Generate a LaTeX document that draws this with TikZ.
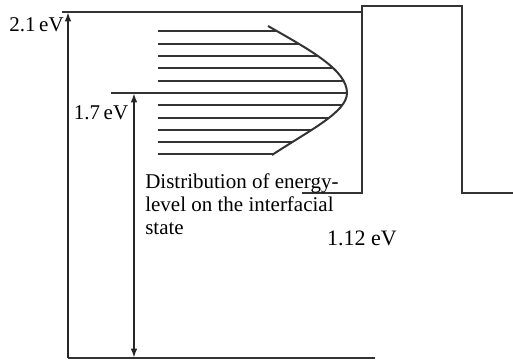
\documentclass[tikz,border=0pt]{standalone}
\usepackage{fontspec}
\setmainfont{Liberation Serif}
\usetikzlibrary{arrows.meta}
\tikzset{
  band/.style={line width=1.5pt, black!80},
  level/.style={line width=1.5pt, black!80},
  arr/.style={-{Latex[length=7pt,width=5pt]}, line width=1.5pt, black!85},
  darr/.style={{Latex[length=7pt,width=5pt]}-{Latex[length=7pt,width=5pt]}, line width=1.5pt, black!85},
  lbl/.style={font=\fontsize{15.75}{17.25}\selectfont, inner sep=0pt},
}

\begin{document}
\begin{tikzpicture}[x=0.75pt, y=-0.75pt, line join=miter]
  \useasboundingbox (0,0) rectangle (513,363);

  %% ── Band edges ──
  \coordinate (cb) at (68,12);
  \coordinate (vb) at (68,358);
  \coordinate (es) at (134,93);
  \coordinate (esb) at (134,358);
  \draw[band] (62,12) -- (362,12);
  \draw[band] (111,93) -- (347,93);
  \draw[band] (vb) -- (375,358);
  \draw[band] (302,193) -- (362,193) -- (362,6) -- (462,6) -- (462,193) -- (513,193);

  %% ── Interface states ──
  \begin{scope}
    \clip (150,20) -- (268,26) .. controls (310,50) and (347,70) .. (347,93)
      .. controls (347,112) and (310,130) .. (272,155) -- (150,165) -- cycle;
    \foreach \y in {31.5,43.8,56.1,68.4,80.7,105.3,117.6,129.9,142.2,154.5}
      \draw[level] (158,\y) -- (360,\y);
  \end{scope}
  \draw[band] (268,26) .. controls (310,50) and (347,70) .. (347,93)
    .. controls (347,112) and (310,130) .. (272,155);

  %% ── Gaps ──
  \draw[arr] (vb) -- (cb);
  \draw[darr] (es) -- (esb);

  \node[lbl, anchor=east] (eg21) at (64,25) {2.1\,eV};
  \node[lbl, anchor=east] (eg17) at (128.5,112.5) {1.7\,eV};
  \node[lbl, anchor=north west, align=left] (dos) at (145,173)
    {Distribution of energy-\\level on the interfacial\\state};
  \node[lbl, font=\fontsize{16.5}{18}\selectfont] (egsi) at (362,238) {1.12 eV};
\end{tikzpicture}
\end{document}
